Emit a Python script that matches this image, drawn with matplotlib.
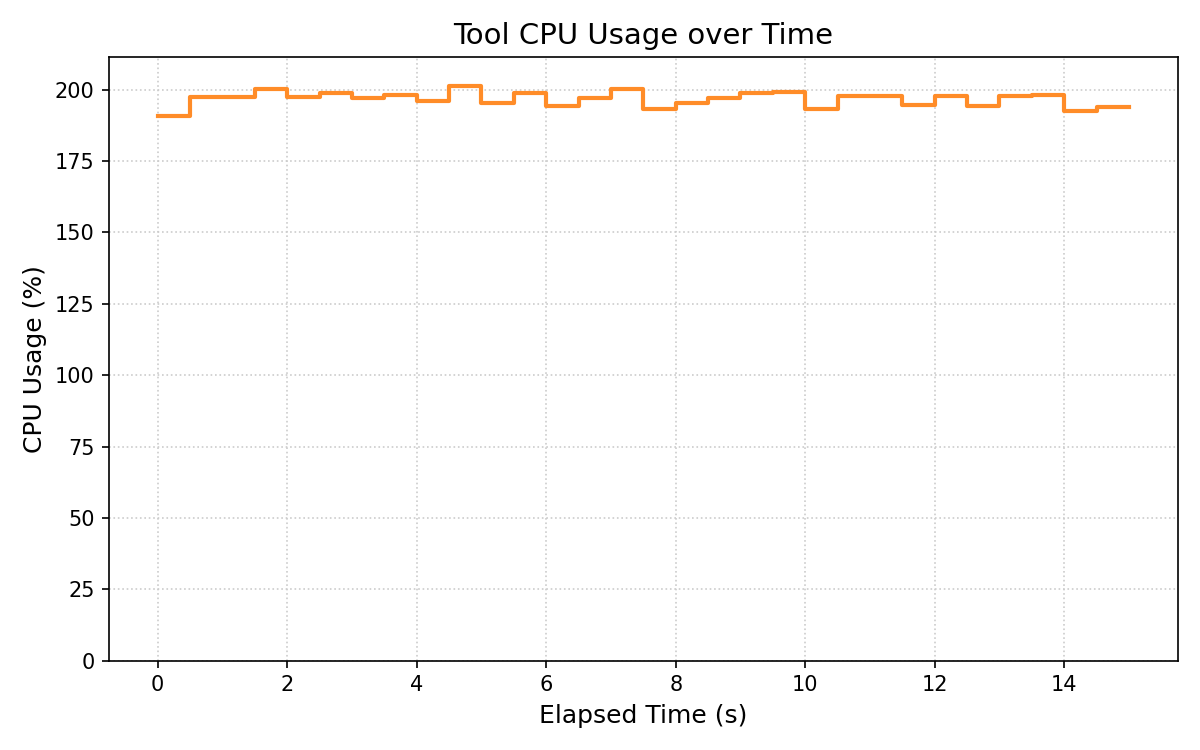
import numpy as np
import matplotlib
matplotlib.use("Agg")
import matplotlib.pyplot as plt

# sample times (s), one sample every 0.5 s
elapsed = np.arange(0, 15.5, 0.5)
cpu_usage = [190.9, 197.5, 197.5, 200.2, 197.6, 198.9, 197.0, 198.1, 196.0, 201.4,
             195.5, 198.9, 194.4, 197.1, 200.2, 193.4, 195.5, 197.0, 198.7, 199.3,
             193.2, 197.7, 197.7, 194.8, 197.7, 194.4, 197.7, 198.2, 192.5, 193.8,
             193.8]

fig, ax = plt.subplots(figsize=(8, 5), dpi=150)
ax.step(elapsed, cpu_usage, where="post", color="#ff8c28", linewidth=2)
ax.set_ylim(0, max(cpu_usage) * 1.05)
ax.set_title("Tool CPU Usage over Time", fontsize=14)
ax.set_xlabel("Elapsed Time (s)", fontsize=12)
ax.set_ylabel("CPU Usage (%)", fontsize=12)
ax.grid(True, linestyle=":", color="#cccccc")
fig.tight_layout()
fig.savefig("out.png")
